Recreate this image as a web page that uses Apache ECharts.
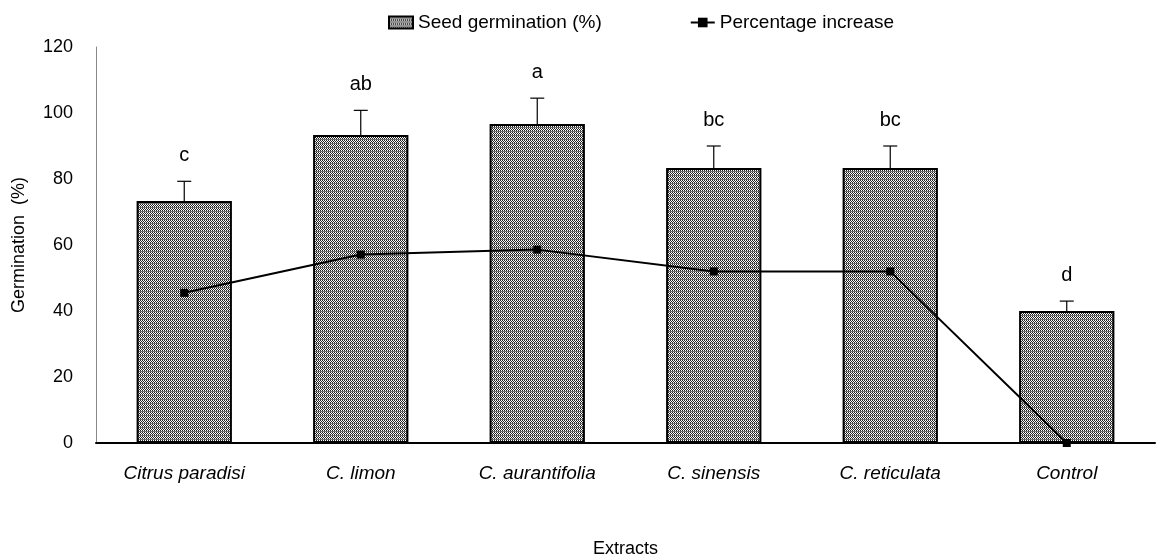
<!DOCTYPE html>
<html lang="en">
<head>
  <meta charset="UTF-8">
  <title>Germination</title>
  <script src="https://cdn.jsdelivr.net/npm/echarts@6/dist/echarts.min.js"></script>
</head>
<body style="margin:0">
  <div id="chart" style="width:1157px;height:556px;"></div>
<script>
  // data
  var extracts = ['Citrus paradisi', 'C. limon', 'C. aurantifolia', 'C. sinensis', 'C. reticulata', 'Control'];
  var germination = [73.3, 93.3, 96.7, 83.3, 83.3, 40];
  var errBars = [6, 7.5, 7.8, 6.7, 6.7, 3];
  var increase = [45.5, 57.1, 58.6, 52, 52, 0];
  var letters = ['c', 'ab', 'a', 'bc', 'bc', 'd'];

  var FONT = '"Liberation Sans", Arial, sans-serif';

  // dotted grey fill like the original
  var pc = document.createElement('canvas');
  pc.width = 4; pc.height = 4;
  var ctx = pc.getContext('2d');
  ctx.fillStyle = '#fff';
  ctx.fillRect(0, 0, 4, 4);
  ctx.fillStyle = '#222';
  for (var y = 0; y < 3; y++) {
    for (var x = 0; x < 4; x++) {
      if ((x + y) % 2 === 0) ctx.fillRect(x, y, 1, 1);
    }
  }
  ctx.fillStyle = '#707070';
  ctx.fillRect(0, 3, 4, 1);
  var pattern = { image: pc, repeat: 'repeat' };

  var myChart = echarts.init(document.getElementById('chart'));
  var option = {
    animation: false,
    textStyle: { fontFamily: FONT, color: '#000' },
    legend: {
      top: 8,
      left: 383,
      itemGap: 88,
      itemWidth: 24,
      itemHeight: 12,
      textStyle: { fontSize: 19, color: '#000', fontFamily: FONT },
      data: [
        { name: 'Seed germination (%)', icon: 'rect' },
        { name: 'Percentage increase' }
      ]
    },
    grid: { left: 96, right: 2, top: 47, bottom: 113, outerBoundsMode: 'none' },
    xAxis: {
      type: 'category',
      data: extracts,
      name: 'Extracts',
      nameLocation: 'middle',
      nameGap: 97,
      nameTextStyle: { fontSize: 18, color: '#000', fontFamily: FONT },
      axisLine: { lineStyle: { color: '#000', width: 2 } },
      axisTick: { show: false },
      axisLabel: { interval: 0, fontSize: 19, fontStyle: 'italic', color: '#000', margin: 21, fontFamily: FONT }
    },
    yAxis: {
      type: 'value',
      min: 0,
      max: 120,
      interval: 20,
      name: 'Germination  (%)',
      nameLocation: 'middle',
      nameGap: 68,
      nameTextStyle: { fontSize: 18, color: '#000', fontFamily: FONT },
      axisLine: { show: true, lineStyle: { color: '#888', width: 1 } },
      axisTick: { show: false },
      splitLine: { show: false },
      axisLabel: { fontSize: 18, color: '#000', margin: 23, fontFamily: FONT }
    },
    series: [
      {
        name: 'Seed germination (%)',
        type: 'bar',
        barWidth: '54%',
        data: germination,
        itemStyle: { color: pattern, borderColor: '#000', borderWidth: 2 }
      },
      {
        type: 'custom',
        z: 3,
        data: extracts.map(function (c, i) { return [i, germination[i], errBars[i]]; }),
        renderItem: function (params, api) {
          var i = api.value(0);
          var top = api.coord([i, api.value(1) + api.value(2)]);
          var base = api.coord([i, api.value(1)]);
          return {
            type: 'group',
            children: [
              { type: 'line', shape: { x1: top[0], y1: top[1], x2: base[0], y2: base[1] }, style: { stroke: '#000', lineWidth: 1.2 } },
              { type: 'line', shape: { x1: top[0] - 7, y1: top[1], x2: top[0] + 7, y2: top[1] }, style: { stroke: '#000', lineWidth: 1.2 } },
              { type: 'text', x: top[0], y: top[1] - 16, style: { text: letters[params.dataIndex], fill: '#000', font: '20px ' + FONT, align: 'center', verticalAlign: 'bottom' } }
            ]
          };
        }
      },
      {
        name: 'Percentage increase',
        type: 'line',
        z: 4,
        data: increase,
        symbol: 'rect',
        symbolSize: 8,
        color: '#000',
        lineStyle: { color: '#000', width: 2 },
        itemStyle: { color: '#000' }
      }
    ]
  };
  myChart.setOption(option);
</script>
</body>
</html>
